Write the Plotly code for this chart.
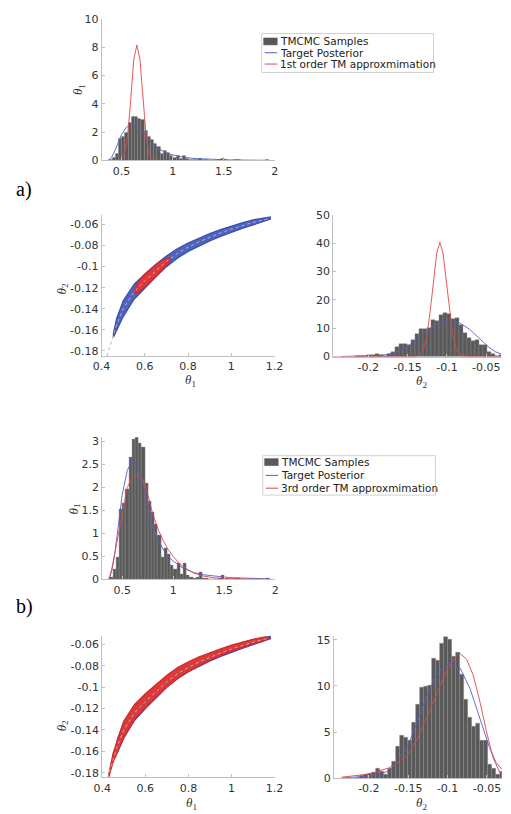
import numpy as np
import plotly.graph_objects as go

W, H = 511, 814

# ---------------- data ----------------
# TMCMC histogram of theta1 (density), 50 equal bins
theta1_bin_lo, theta1_bin_hi = 0.378, 1.943
theta1_hist = [0.05, 0.21, 0.48, 1.52, 1.65, 1.96, 2.65, 3.05, 3.09, 2.97,
               2.88, 2.10, 1.70, 1.45, 1.20, 0.95, 0.48, 0.68, 0.55, 0.30,
               0.22, 0.35, 0.12, 0.35, 0.10, 0.05, 0.02, 0.05, 0.15, 0.03,
               0.02, 0.00, 0.00, 0.00, 0.02, 0.10, 0.02, 0.00, 0.00, 0.02,
               0.02, 0.00, 0.00, 0.00, 0.00, 0.00, 0.00, 0.00, 0.00, 0.02]

# TMCMC histogram of theta2 (density), 37 equal bins
theta2_bin_lo, theta2_bin_hi = -0.216, -0.029
theta2_hist = [0.1, 0.3, 0.35, 0.5, 0.6, 1.0, 0.7, 0.4, 1.0, 1.8,
               3.4, 4.6, 4.4, 4.1, 6.0, 8.0, 9.8, 9.9, 10.0, 13.0,
               12.7, 14.6, 15.4, 15.0, 13.2, 13.6, 11.2, 8.5, 6.6, 5.6,
               5.9, 4.1, 4.1, 1.5, 1.0, 0.4, 0.7]

# target posterior marginals
post1_x = [0.37, 0.40, 0.43, 0.46, 0.50, 0.55, 0.60, 0.65, 0.70, 0.75, 0.80, 0.85,
           0.90, 0.95, 1.00, 1.10, 1.20, 1.30, 1.40, 1.50, 1.60, 1.70, 1.80, 1.95]
post1_y = [0.0, 0.2, 0.6, 1.1, 1.84, 2.37, 2.6, 2.45, 2.1, 1.65, 1.15, 0.88,
           0.66, 0.5, 0.4, 0.24, 0.15, 0.1, 0.07, 0.05, 0.035, 0.025, 0.017, 0.01]
post2_x = [-0.2347, -0.22, -0.20, -0.185, -0.175, -0.165, -0.15, -0.1376, -0.1252,
           -0.1129, -0.0963, -0.0839, -0.0715, -0.0591, -0.0467, -0.0385, -0.0302]
post2_y = [0.02, 0.08, 0.22, 0.45, 0.8, 1.6, 3.6, 6.3, 9.2, 11.4, 12.5, 11.9, 9.7,
           6.5, 3.3, 1.7, 0.85]

# 1st order TM approximation marginals
tm1_t1_x = [0.37, 0.45, 0.50, 0.52, 0.54, 0.56, 0.58, 0.60, 0.62, 0.65, 0.68, 0.70,
            0.72, 0.74, 0.76, 0.78, 0.80, 0.83, 0.90, 1.20, 1.60, 1.95]
tm1_t1_y = [0.0, 0.0, 0.10, 0.31, 0.82, 1.81, 3.38, 5.35, 7.16, 8.15, 7.16, 5.35,
            3.38, 1.81, 0.82, 0.31, 0.10, 0.02, 0.0, 0.0, 0.0, 0.0]
tm1_t2_x = [-0.245, -0.16, -0.145, -0.141, -0.137, -0.133, -0.129, -0.125, -0.121,
            -0.117, -0.113, -0.109, -0.105, -0.101, -0.097, -0.093, -0.089, -0.085,
            -0.081, -0.077, -0.073, -0.06, -0.03]
tm1_t2_y = [0.0, 0.0, 0.01, 0.07, 0.32, 1.15, 3.4, 8.3, 16.6, 27.1, 36.5, 40.3,
            36.5, 27.1, 16.6, 8.3, 3.4, 1.15, 0.32, 0.07, 0.01, 0.0, 0.0]

# 3rd order TM approximation marginals
tm3_t1_x = [0.37, 0.40, 0.43, 0.46, 0.50, 0.55, 0.60, 0.655, 0.70, 0.75, 0.80, 0.85,
            0.90, 0.95, 1.00, 1.05, 1.10, 1.20, 1.30, 1.40, 1.50, 1.60, 1.80, 1.95]
tm3_t1_y = [0.0, 0.25, 0.6, 0.95, 1.48, 2.0, 2.22, 2.28, 2.18, 1.85, 1.42, 1.1,
            0.85, 0.65, 0.5, 0.37, 0.27, 0.14, 0.07, 0.035, 0.018, 0.009, 0.003, 0.001]
tm3_t2_x = [-0.2347, -0.20, -0.175, -0.16, -0.15, -0.1376, -0.125, -0.113, -0.10,
            -0.0856, -0.076, -0.0677, -0.059, -0.0508, -0.0426, -0.0343, -0.0302]
tm3_t2_y = [0.1, 0.45, 1.1, 1.9, 2.6, 4.4, 6.9, 9.4, 11.9, 13.6, 12.9, 11.2, 8.3,
            5.1, 2.3, 0.7, 0.3]

# joint sample clouds: theta1 grid, theta2 centre and half-spread
post_t1 = [0.455, 0.47, 0.50, 0.55, 0.60, 0.65, 0.70, 0.75, 0.80, 0.85, 0.90,
           0.95, 1.00, 1.05, 1.10, 1.15, 1.18]
post_t2 = [-0.165, -0.155, -0.140, -0.124, -0.1135, -0.104, -0.095, -0.0875,
           -0.0815, -0.0765, -0.072, -0.068, -0.0643, -0.061, -0.058, -0.0553, -0.0538]
post_dt2 = [0.002, 0.006, 0.0075, 0.007, 0.0065, 0.006, 0.005, 0.0045, 0.004,
            0.0038, 0.0035, 0.0032, 0.003, 0.0027, 0.0024, 0.0018, 0.001]

tm1_s_t1 = [0.555, 0.57, 0.60, 0.63, 0.66, 0.69, 0.715]
tm1_s_t2 = [-0.123, -0.1195, -0.1135, -0.108, -0.102, -0.097, -0.093]
tm1_s_dt2 = [0.002, 0.005, 0.006, 0.006, 0.0055, 0.004, 0.0015]

tm3_s_t1 = [0.43, 0.45, 0.50, 0.55, 0.60, 0.65, 0.70, 0.75, 0.80, 0.85, 0.90,
            0.95, 1.00, 1.05, 1.10, 1.15, 1.17]
tm3_s_t2 = [-0.183, -0.166, -0.1395, -0.1232, -0.1128, -0.1033, -0.0945, -0.0868,
            -0.0808, -0.0758, -0.0713, -0.0673, -0.0636, -0.0603, -0.0573, -0.0548, -0.054]
tm3_s_dt2 = [0.001, 0.004, 0.0075, 0.007, 0.0065, 0.006, 0.0055, 0.005, 0.0045,
             0.004, 0.0035, 0.003, 0.0028, 0.0025, 0.002, 0.0015, 0.001]

# TMCMC samples along the ridge
tmcmc_t1 = [0.425, 0.435, 0.445, 0.455, 0.47, 0.50, 0.55, 0.60, 0.65, 0.70, 0.75,
            0.80, 0.85, 0.90, 0.95, 1.00, 1.05, 1.10, 1.15, 1.17]
tmcmc_t2 = [-0.185, -0.178, -0.171, -0.165, -0.155, -0.140, -0.124, -0.1135, -0.104,
            -0.095, -0.0875, -0.0815, -0.0765, -0.072, -0.068, -0.0643, -0.061,
            -0.058, -0.0553, -0.0545]

# ---------------- styling ----------------
BAR = "#595959"
BLUE = "#5560c8"
RED = "#e0464a"
SBLUE = "#3a4fb4"
SBLUE_FILL = "#4f63bf"
SRED = "#d42a2a"
SRED_FILL = "#dc3a3a"
AXC = "#bfbfbf"
TXT = "#333333"
FONT = "DejaVu Sans"


def px_x(x):
    return x / W


def px_y(y):
    return 1 - y / H


def centers(lo, hi, n):
    e = np.linspace(lo, hi, n + 1)
    return (e[:-1] + e[1:]) / 2, (hi - lo) / n


def band(t1, t2, dt2):
    t1 = np.asarray(t1)
    up = np.asarray(t2) + np.asarray(dt2)
    lo = np.asarray(t2) - np.asarray(dt2)
    return np.concatenate([t1, t1[::-1], t1[:1]]), np.concatenate([up, lo[::-1], up[:1]])


fig = go.Figure()

c1, w1 = centers(theta1_bin_lo, theta1_bin_hi, len(theta1_hist))
c2, w2 = centers(theta2_bin_lo, theta2_bin_hi, len(theta2_hist))


def hist_panel(xa, ya, cx, w, h, px, py, tx, ty):
    fig.add_trace(go.Bar(x=cx, y=h, width=w,
                         marker=dict(color=BAR, line=dict(color="#8c8c8c", width=0.4)),
                         xaxis=xa, yaxis=ya, showlegend=False))
    fig.add_trace(go.Scatter(x=px, y=py, mode="lines", line=dict(color=BLUE, width=0.9),
                             xaxis=xa, yaxis=ya, showlegend=False))
    fig.add_trace(go.Scatter(x=tx, y=ty, mode="lines", line=dict(color=RED, width=0.9),
                             xaxis=xa, yaxis=ya, showlegend=False))


def cloud(xa, ya, t1, t2, dt2, edge, fill):
    bx, by = band(t1, t2, dt2)
    fig.add_trace(go.Scatter(x=bx, y=by, mode="lines", fill="toself", fillcolor=fill,
                             line=dict(color=edge, width=1.3), xaxis=xa, yaxis=ya,
                             showlegend=False, hoverinfo="skip"))


def ridge(xa, ya):
    fig.add_trace(go.Scatter(x=tmcmc_t1, y=tmcmc_t2, mode="lines",
                             line=dict(color="#b4b4b4", width=1, dash="dot"),
                             xaxis=xa, yaxis=ya, showlegend=False))


# (a) 1st order
hist_panel("x", "y", c1, w1, theta1_hist, post1_x, post1_y, tm1_t1_x, tm1_t1_y)
cloud("x2", "y2", post_t1, post_t2, post_dt2, SBLUE, SBLUE_FILL)
cloud("x2", "y2", tm1_s_t1, tm1_s_t2, tm1_s_dt2, SRED, SRED_FILL)
ridge("x2", "y2")
hist_panel("x3", "y3", c2, w2, theta2_hist, post2_x, post2_y, tm1_t2_x, tm1_t2_y)

# (b) 3rd order
hist_panel("x4", "y4", c1, w1, theta1_hist, post1_x, post1_y, tm3_t1_x, tm3_t1_y)
cloud("x5", "y5", post_t1, post_t2, post_dt2, SBLUE, SBLUE_FILL)
cloud("x5", "y5", tm3_s_t1, tm3_s_t2, tm3_s_dt2, SRED, SRED_FILL)
ridge("x5", "y5")
hist_panel("x6", "y6", c2, w2, theta2_hist, post2_x, post2_y, tm3_t2_x, tm3_t2_y)


def axis(x0, x1, y0, y1, rng, tickvals, ticktext, anchor, horizontal):
    dom = [px_x(x0), px_x(x1)] if horizontal else [px_y(y1), px_y(y0)]
    return dict(domain=dom, range=rng, tickvals=tickvals, ticktext=ticktext, anchor=anchor,
                showline=True, linecolor=AXC, linewidth=1, ticks="inside", ticklen=3,
                tickcolor=AXC, showgrid=False, zeroline=False,
                tickfont=dict(family=FONT, size=11, color=TXT))


t1_ticks = [0.5, 1, 1.5, 2]
t1_text = ["0.5", "1", "1.5", "2"]
s1_ticks = [0.4, 0.6, 0.8, 1.0, 1.2]
s1_text = ["0.4", "0.6", "0.8", "1", "1.2"]
s2_ticks = [-0.18, -0.16, -0.14, -0.12, -0.1, -0.08, -0.06]
s2_text = ["-0.18", "-0.16", "-0.14", "-0.12", "-0.1", "-0.08", "-0.06"]
h2_ticks = [-0.2, -0.15, -0.1, -0.05]
h2_text = ["-0.2", "-0.15", "-0.1", "-0.05"]

boxes = {
    1: (96, 275.5, 13, 157),
    2: (96, 275.3, 212.7, 355.7),
    3: (336, 510, 212.3, 356.3),
    4: (96.7, 276, 438.3, 582.7),
    5: (96.7, 275.3, 640, 784),
    6: (336.7, 510.7, 640.7, 784.7),
}
specs = {
    1: ([0.305, 2.0], t1_ticks, t1_text, [0, 10], [0, 2, 4, 6, 8, 10], None),
    2: ([0.4, 1.2], s1_ticks, s1_text, [-0.185, -0.0512], s2_ticks, s2_text),
    3: ([-0.2445, -0.0313], h2_ticks, h2_text, [0, 50], [0, 10, 20, 30, 40, 50], None),
    4: ([0.305, 2.0], t1_ticks, t1_text, [0, 3.09], [0, 0.5, 1, 1.5, 2, 2.5, 3],
        ["0", "0.5", "1", "1.5", "2", "2.5", "3"]),
    5: ([0.4, 1.2], s1_ticks, s1_text, [-0.1845, -0.052], s2_ticks, s2_text),
    6: ([-0.2445, -0.0313], h2_ticks, h2_text, [0, 15.35], [0, 5, 10, 15], None),
}

layout_axes = {}
for k in range(1, 7):
    x0, x1, y0, y1 = boxes[k]
    xr, xt, xtt, yr, yt, ytt = specs[k]
    sx = "" if k == 1 else str(k)
    layout_axes["xaxis" + sx] = axis(x0, x1, y0, y1, xr, xt, xtt, "y" + sx, True)
    layout_axes["yaxis" + sx] = axis(x0, x1, y0, y1, yr, yt, ytt, "x" + sx, False)

annotations = []
shapes = []


def label(x, y, sub, rot=0, anchor="middle", shift=0):
    annotations.append(dict(x=px_x(x), y=px_y(y), xref="paper", yref="paper",
                            xanchor="center", yanchor=anchor, borderpad=0, yshift=shift,
                            text="<i>θ</i><sub>%s</sub>" % sub, showarrow=False,
                            textangle=rot, font=dict(family="Liberation Serif", size=13, color=TXT)))


label(72, 85, "1", -90)
label(188, 381, "1")
label(55, 288, "2", -90)
label(428, 382, "2")
label(68, 511, "1", -90)
label(189, 814, "1", anchor="bottom", shift=-6)
label(55, 732, "2", -90)
label(428, 814, "2", anchor="bottom", shift=-6)

for txt, y in (("a)", 186), ("b)", 610)):
    annotations.append(dict(x=px_x(16), y=px_y(y), xref="paper", yref="paper", text=txt,
                            xanchor="center", yanchor="middle", showarrow=False,
                            font=dict(family="Liberation Serif", size=20, color="black")))


def legend_box(x0, y0, x1, y1, rows, names):
    shapes.append(dict(type="rect", xref="paper", yref="paper", x0=px_x(x0), x1=px_x(x1),
                       y0=px_y(y1), y1=px_y(y0), line=dict(color="#d0d0d0", width=1),
                       fillcolor="white", layer="above"))
    shapes.append(dict(type="rect", xref="paper", yref="paper", x0=px_x(x0 + 2), x1=px_x(x0 + 16),
                       y0=px_y(rows[0] + 3.5), y1=px_y(rows[0] - 3.5),
                       line=dict(color="#444444", width=0.5), fillcolor=BAR, layer="above"))
    for yy, col in ((rows[1], BLUE), (rows[2], RED)):
        shapes.append(dict(type="line", xref="paper", yref="paper", x0=px_x(x0 + 3), x1=px_x(x0 + 16),
                           y0=px_y(yy), y1=px_y(yy), line=dict(color=col, width=1), layer="above"))
    for yy, nm in zip(rows, names):
        annotations.append(dict(x=px_x(x0 + 16.5), y=px_y(yy), xref="paper", yref="paper", text=nm,
                                showarrow=False, xanchor="left", yanchor="middle",
                                font=dict(family=FONT, size=10.5, color="#222222")))


legend_box(262, 28, 440, 67.5, (36, 47.5, 59),
           ("TMCMC Samples", "Target Posterior", "1st order TM approxmimation"))
legend_box(263, 457, 442, 497, (463.5, 477, 490),
           ("TMCMC Samples", "Target Posterior", "3rd order TM approxmimation"))

fig.update_layout(width=W, height=H, margin=dict(l=0, r=0, t=0, b=0),
                  paper_bgcolor="white", plot_bgcolor="white", bargap=0,
                  annotations=annotations, shapes=shapes, **layout_axes)

fig.write_html("out.html", config={"displayModeBar": False})
